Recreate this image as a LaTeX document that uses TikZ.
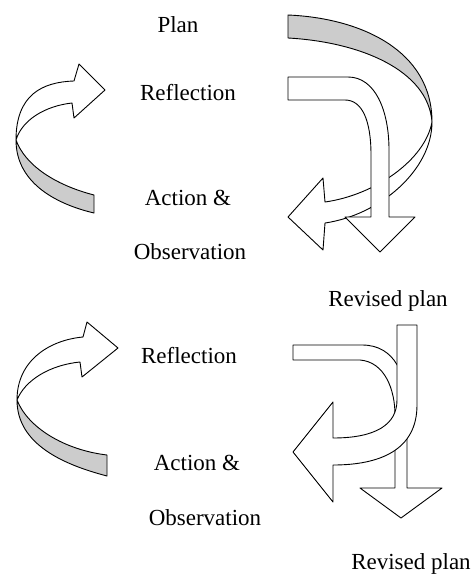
\documentclass[tikz,border=0pt]{standalone}
\usepackage{fontspec}
\setmainfont{Liberation Serif}
\begin{document}
\begin{tikzpicture}
[x=1pt,y=-1pt,
ribbon/.style={draw=black,fill=white,line width=0.9pt,line join=round},
backSide/.style={draw=black,fill=black!20,line width=0.9pt,line join=round},
stageText/.style={font=\fontsize{23}{27}\selectfont,anchor=base,inner sep=0pt}]
  \useasboundingbox (0,0) rectangle (473,576);
  % top cycle, left turn
  \path[backSide] (16,140) .. controls (16,185) and (60,205) .. (94,213) -- (94,195)
    .. controls (55,185) and (25,165) .. (16,140) -- cycle;
  \path[ribbon] (16,140) .. controls (16,95) and (42,82) .. (74,81) -- (79,64) -- (105,90)
    -- (74,118) -- (72,103) .. controls (45,106) and (22,120) .. (16,140) -- cycle;
  % top cycle, plan turning back
  \path[backSide] (288,15) .. controls (360,18) and (432,50) .. (432,122)
    .. controls (428,70) and (360,42) .. (288,38) -- cycle;
  \path[ribbon] (432,122) .. controls (432,170) and (380,215) .. (325,223) -- (323,250)
    -- (288,217) -- (323,178) -- (325,202) .. controls (375,195) and (425,160) .. (432,122) -- cycle;
  % top cycle, reflection going down
  \path[ribbon] (288,77) -- (348,77) .. controls (375,77) and (389,110) .. (389,150)
    -- (389,217) -- (415,217) -- (380,252) -- (345,217) -- (371,217) -- (371,155)
    .. controls (371,120) and (362,100) .. (345,100) -- (288,100) -- cycle;
  % bottom cycle, left turn
  \path[backSide] (17,400) .. controls (17,445) and (65,465) .. (107,476) -- (107,455)
    .. controls (65,450) and (28,428) .. (17,400) -- cycle;
  \path[ribbon] (17,400) .. controls (17,360) and (50,340) .. (83,337) -- (87,322) -- (118,348)
    -- (82,377) -- (80,362) .. controls (50,365) and (25,380) .. (17,400) -- cycle;
  % bottom cycle, reflection going down
  \path[ribbon] (293,345) -- (362,345) .. controls (395,345) and (407,375) .. (407,410)
    -- (407,488) -- (442,488) -- (401,518) -- (360,488) -- (395,488) -- (395,415)
    .. controls (395,390) and (385,362) .. (360,360) -- (293,360) -- cycle;
  % bottom cycle, revised plan turning back
  \path[ribbon] (397,325) -- (417,325) -- (417,405) .. controls (417,450) and (380,465) .. (333,465)
    -- (333,502) -- (293,452) -- (333,402) -- (333,438)
    .. controls (375,438) and (397,425) .. (397,400) -- cycle;
  % labels
  \node[stageText] (planOFtop)       at (178,32)  {Plan};
  \node[stageText] (reflectOFtop)    at (188,100) {Reflection};
  \node[stageText] (actionOFtop)     at (188,205) {Action \&};
  \node[stageText] (observeOFtop)    at (190,259) {Observation};
  \node[stageText] (revisedOFtop)    at (388,306) {Revised plan};
  \node[stageText] (reflectOFbottom) at (189,363) {Reflection};
  \node[stageText] (actionOFbottom)  at (197,470) {Action \&};
  \node[stageText] (observeOFbottom) at (205,525) {Observation};
  \node[stageText] (revisedOFbottom) at (411,569) {Revised plan};
\end{tikzpicture}
\end{document}
